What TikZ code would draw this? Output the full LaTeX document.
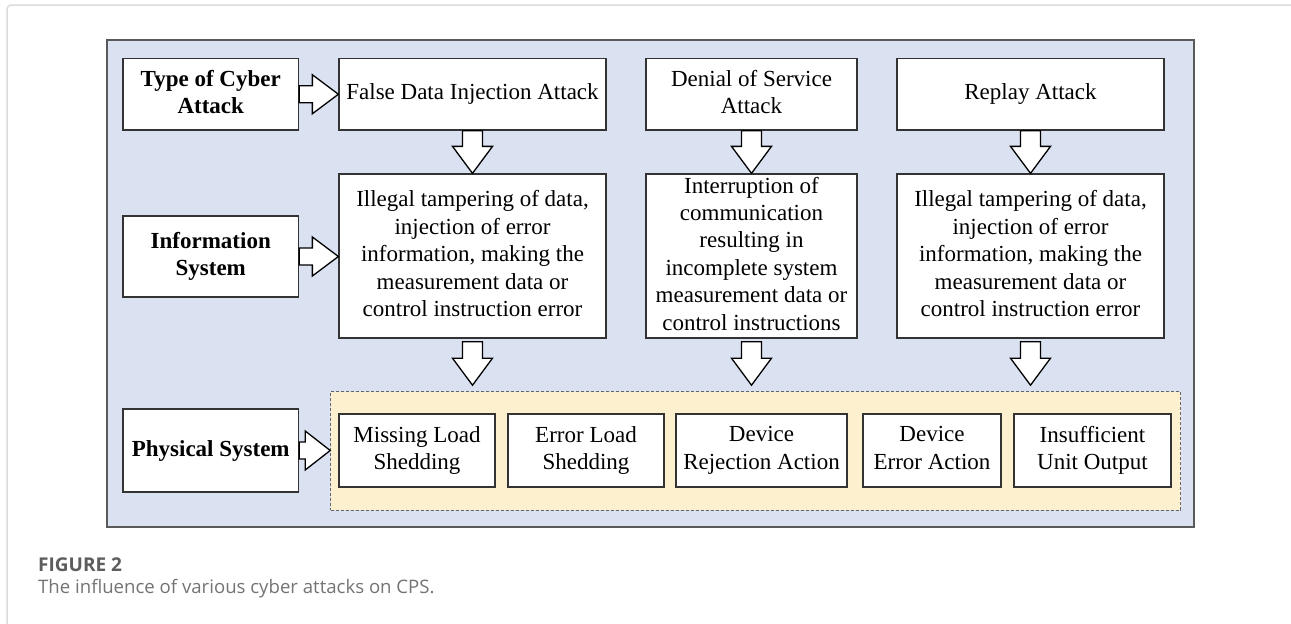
\documentclass[tikz,border=0pt]{standalone}
\usepackage{fontspec}
\setmainfont{Liberation Serif}
\newfontfamily\capfont{Open Sans}
\usetikzlibrary{calc}
\definecolor{bgblue}{HTML}{DAE1F0}
\definecolor{bgyellow}{HTML}{FDF0CF}
\definecolor{framegray}{HTML}{DCDCDC}
\definecolor{capgray}{HTML}{747474}
\tikzset{
  cell/.style={draw=black!80, line width=1.3pt, fill=white, align=center, inner sep=0pt,
    font=\fontsize{23}{27.4}\selectfont, execute at begin node=\vphantom{Ij}, execute at end node=\vphantom{Ij}},
  headcell/.style={cell, font=\fontsize{23}{27.4}\selectfont\bfseries},
  barrow/.style={draw=black, line width=1.3pt, fill=white, line join=miter},
}
\newcommand\downblk[3]{% #1 source node, #2 target node, #3 gap at target
  \draw[barrow] let \p1=(#1.south), \p2=(#2.north) in
    (\x1-10pt,\y1-3pt) -- (\x1+10pt,\y1-3pt) -- (\x1+10pt,\y2+#3+27pt) -- (\x1+20pt,\y2+#3+27pt)
    -- (\x1,\y2+#3) -- (\x1-20pt,\y2+#3+27pt) -- (\x1-10pt,\y2+#3+27pt) -- cycle;}
\newcommand\topblk[2]{% first row: starts at source bottom, tip touches target
  \draw[barrow] let \p1=(#1.south), \p2=(#2.north) in
    (\x1-10pt,\y1) -- (\x1+10pt,\y1) -- (\x1+10pt,\y2+27pt) -- (\x1+20pt,\y2+27pt)
    -- (\x1,\y2) -- (\x1-20pt,\y2+27pt) -- (\x1-10pt,\y2+27pt) -- cycle;}
\newcommand\rightblk[3]{% #1 source, #2 target, #3 head length
  \draw[barrow] let \p1=(#1.east), \p2=(#2.west) in
    (\x1,\y1-8.5pt) -- (\x2-#3,\y1-8.5pt) -- (\x2-#3,\y1-19.5pt) -- (\x2,\y1)
    -- (\x2-#3,\y1+19.5pt) -- (\x2-#3,\y1+8.5pt) -- (\x1,\y1+8.5pt) -- cycle;}
\begin{document}
\begin{tikzpicture}[x=1pt, y=-1pt]
\useasboundingbox (0,0) rectangle (1291,624);
\fill[white] (0,0) rectangle (1291,624);
% card frame
\draw[framegray, line width=1.5pt, rounded corners=4pt] (7,626) -- (7,5) -- (1293,5);
% blue background
\node[draw=black!65, line width=1.5pt, fill=bgblue, minimum width=1087pt, minimum height=487pt, inner sep=0pt] (bg) at (650.5,283.5) {};
% top row
\node[headcell, minimum width=175.5pt, minimum height=71.5pt] (typ) at (210.75,94.25) {Type of Cyber\\Attack};
\node[cell, minimum width=267pt, minimum height=71.5pt] (fdi) at (472.5,94.25) {False Data Injection Attack};
\node[cell, minimum width=211pt, minimum height=71.5pt] (dos) at (751.5,94.25) {Denial of Service\\Attack};
\node[cell, minimum width=267pt, minimum height=71.5pt] (rep) at (1030.5,94.25) {Replay Attack};
% info row
\node[headcell, minimum width=175.5pt, minimum height=81pt] (inf) at (210.75,256.5) {Information\\System};
\node[cell, minimum width=267pt, minimum height=164pt] (ifdi) at (472.5,256) {Illegal tampering of data,\\injection of error\\information, making the\\measurement data or\\control instruction error};
\node[cell, minimum width=211pt, minimum height=164pt] (idos) at (751.5,256) {Interruption of\\communication\\resulting in\\incomplete system\\measurement data or\\control instructions};
\node[cell, minimum width=267pt, minimum height=164pt] (irep) at (1030.5,256) {Illegal tampering of data,\\injection of error\\information, making the\\measurement data or\\control instruction error};
% physical row
\node[headcell, minimum width=175.5pt, minimum height=83pt] (phy) at (210.75,450.5) {Physical System};
\node[draw=black!60, dashed, dash pattern=on 3pt off 2pt, line width=1pt, fill=bgyellow, minimum width=850pt, minimum height=118.3pt, inner sep=0pt] (yel) at (755.7,450.85) {};
\node[cell, minimum width=156pt, minimum height=73pt] (p1) at (417,450.5) {Missing Load\\Shedding};
\node[cell, minimum width=156pt, minimum height=73pt] (p2) at (586,450.5) {Error Load\\Shedding};
\node[cell, minimum width=171pt, minimum height=73pt] (p3) at (761.5,450.5) {Device\\Rejection Action};
\node[cell, minimum width=138pt, minimum height=73pt] (p4) at (932,450.5) {Device\\Error Action};
\node[cell, minimum width=157pt, minimum height=73pt] (p5) at (1092.5,450.5) {Insufficient\\Unit Output};
% block arrows
\rightblk{typ}{fdi}{26pt}
\rightblk{inf}{ifdi}{26pt}
\rightblk{phy}{yel}{25pt}
\topblk{fdi}{ifdi}
\topblk{dos}{idos}
\topblk{rep}{irep}
\downblk{ifdi}{yel}{6pt}
\downblk{idos}{yel}{6pt}
\downblk{irep}{yel}{6pt}
% caption
\node[anchor=west, inner sep=0pt, text=capgray!80!black, font=\capfont\bfseries\fontsize{19}{22}\selectfont] (figl) at (38,565) {FIGURE 2};
\node[anchor=west, inner sep=0pt, text=capgray, font=\capfont\fontsize{18.6}{22}\selectfont] (figc) at (38,589) {The influence of various cyber attacks on CPS.};
\end{tikzpicture}
\end{document}
